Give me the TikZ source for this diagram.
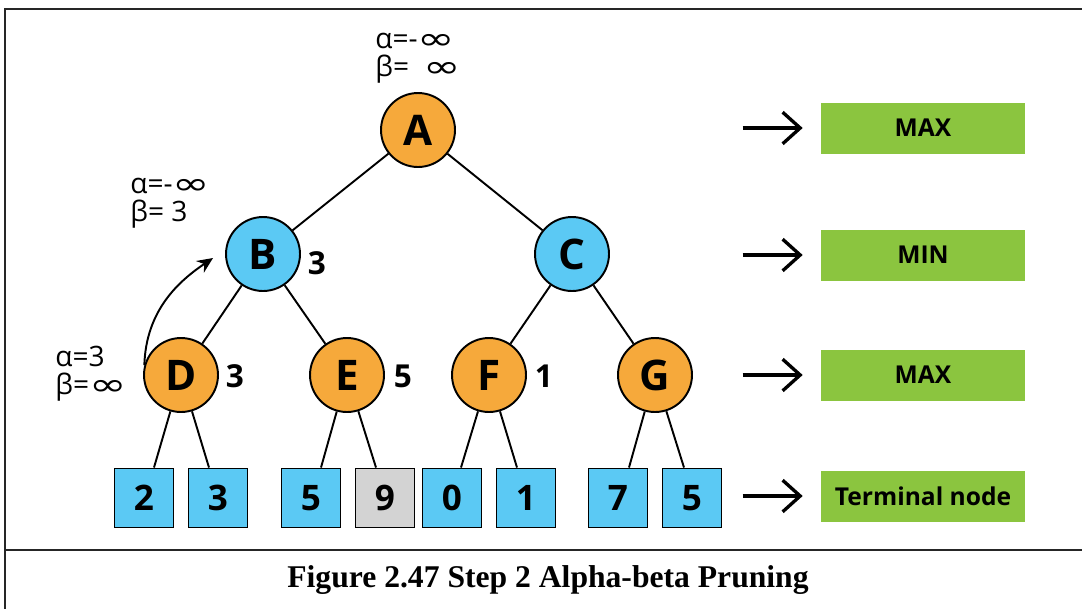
\documentclass[tikz,border=0pt]{standalone}
\usepackage{fontspec}
\usepackage{graphicx}
\setmainfont{Open Sans}
\newfontfamily\capfont{Liberation Serif}
\newfontfamily\symfont{DejaVu Sans}
\usetikzlibrary{arrows.meta}
\definecolor{nodeorange}{HTML}{F6A93B}
\definecolor{nodeblue}{HTML}{5BC9F4}
\definecolor{levelgreen}{HTML}{8BC53F}
\definecolor{prunedgray}{HTML}{D3D3D3}
\newcommand{\infsym}{\raisebox{-0.04em}{\scalebox{1.6}[1.1]{\symfont ∞}}}

\begin{document}
\begin{tikzpicture}[
  x=0.02cm,
  y=-0.02cm,
  every node/.style={font=\normalsize},
  maxnode/.style={circle, draw, line width=1.1pt, fill=nodeorange,
    minimum size=1.48cm, inner sep=0pt,
    font=\fontsize{24}{24}\selectfont\bfseries},
  minnode/.style={maxnode, fill=nodeblue},
  leaf/.style={rectangle, draw, line width=1.1pt, fill=nodeblue,
    minimum size=1.18cm, inner sep=0pt,
    font=\fontsize{20}{20}\selectfont\bfseries},
  pruned/.style={leaf, fill=prunedgray},
  value/.style={inner sep=0pt, font=\fontsize{18}{18}\selectfont\bfseries},
  bounds/.style={anchor=west, align=left, inner sep=0pt,
    font=\fontsize{16}{16}\selectfont},
  level/.style={fill=levelgreen, minimum width=4.08cm, minimum height=1.02cm,
    inner sep=0pt, font=\fontsize{14}{14}\selectfont\bfseries},
  edge/.style={line width=1.1pt},
  legend/.style={line width=1.9pt, -{Straight Barb[length=10pt, width=18pt]}},
  back/.style={line width=1.1pt, -{Stealth[length=9pt, width=8pt]}},
  frame/.style={line width=1.1pt, black!85}
]
\useasboundingbox (0,0) rectangle (1082,609);

% =====================================================================
% frame and caption
% =====================================================================
\draw[frame] (1082,9) -- (5,9) -- (5,609);
\draw[frame] (5,550) -- (1082,550);
\node[font=\capfont\fontsize{18}{18}\selectfont\bfseries] (caption)
  at (548,580) {Figure 2.47 Step 2 Alpha-beta Pruning};

% =====================================================================
% game tree
% =====================================================================
\node[maxnode] (A) at (418,130) {A};
\node[minnode] (B) at (263,254) {B};
\node[minnode] (C) at (572,254) {C};
\node[maxnode] (D) at (181,375) {D};
\node[maxnode] (E) at (347,375) {E};
\node[maxnode] (F) at (489,375) {F};
\node[maxnode] (G) at (655,375) {G};

\foreach \name/\x/\val in {l1/144/2, l2/218/3, l3/311/5, l5/452/0,
                           l6/526/1, l7/618/7, l8/692/5}
  \node[leaf] (\name) at (\x,498) {\val};
\node[pruned] (l4) at (385,498) {9};

\draw[edge] (A) -- (B);
\draw[edge] (A) -- (C);
\draw[edge] (B) -- (D);
\draw[edge] (B) -- (E);
\draw[edge] (C) -- (F);
\draw[edge] (C) -- (G);
\draw[edge] (D) -- ([xshift=0.2cm]l1.north);
\draw[edge] (D) -- ([xshift=-0.18cm]l2.north);
\draw[edge] (E) -- ([xshift=0.2cm]l3.north);
\draw[edge] (E) -- ([xshift=-0.18cm]l4.north);
\draw[edge] (F) -- ([xshift=0.18cm]l5.north);
\draw[edge] (F) -- ([xshift=-0.18cm]l6.north);
\draw[edge] (G) -- ([xshift=0.22cm]l7.north);
\draw[edge] (G) -- ([xshift=-0.16cm]l8.north);

% backed-up values and bounds
\node[value] (vB) at (317,263) {3};
\node[value] (vD) at (235,376) {3};
\node[value] (vE) at (403,376) {5};
\node[value] (vF) at (544,376) {1};

\node[bounds] (abA) at (375,58) {α=-\infsym\\β=\ \ \infsym};
\node[bounds] (abB) at (130,203) {α=-\infsym\\β= 3};
\node[bounds] (abD) at (55,374) {α=3\\β=\infsym};

\draw[back] (D.165) .. controls (146,310) and (179,281)
  .. ([xshift=-0.24cm, yshift=-0.08cm]B.west);

% =====================================================================
% level legend
% =====================================================================
\node[level] (lvA) at (923,128) {MAX};
\node[level] (lvB) at (923,255) {MIN};
\node[level] (lvD) at (923,375) {MAX};
\node[level] (lvT) at (923,496) {Terminal node};
\foreach \lv in {lvA, lvB, lvD, lvT}
  \draw[legend] ([xshift=-1.56cm]\lv.west) -- ([xshift=-0.36cm]\lv.west);

\end{tikzpicture}
\end{document}
